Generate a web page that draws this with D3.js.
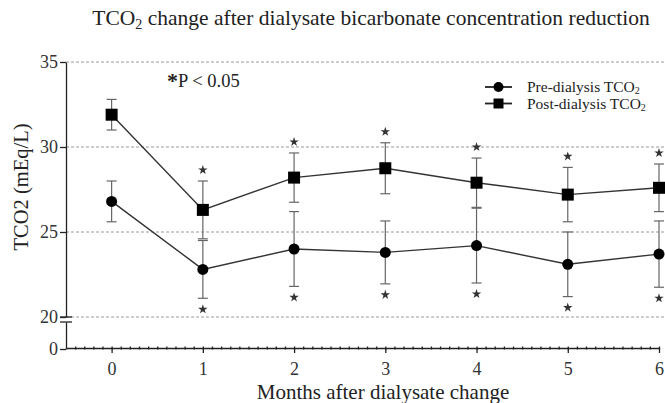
<!DOCTYPE html>
<html>
<head>
<meta charset="utf-8">
<script src="https://cdn.jsdelivr.net/npm/d3@7"></script>
<style>
body { margin: 0; background: #fff; }
text { font-family: "Liberation Serif", "Times New Roman", serif; fill: #222; }
.axis path, .axis line { stroke: #222; stroke-width: 1.3; }
.axis text { font-family: "Liberation Serif", serif; font-size: 18px; fill: #333; }
</style>
</head>
<body>
<div id="chart"></div>
<script>
// data
var months = [0, 1, 2, 3, 4, 5, 6];
var preMean = [26.8, 22.8, 24.0, 23.8, 24.2, 23.1, 23.7];
var preSD = [1.2, 1.7, 2.2, 1.85, 2.2, 1.9, 1.95];
var postMean = [31.9, 26.3, 28.2, 28.75, 27.9, 27.2, 27.6];
var postSD = [0.9, 1.7, 1.45, 1.5, 1.45, 1.6, 1.4];
var significant = [false, true, true, true, true, true, true];
var yTicks = [20, 25, 30, 35];

var svgWidth = 665;
var svgHeight = 403;

var svg = d3.select("#chart")
    .append("svg")
    .attr("width", svgWidth)
    .attr("height", svgHeight);

var x = d3.scaleLinear().domain([-0.5, 6]).range([66, 659]);
var y = d3.scaleLinear().domain([20, 35]).range([317, 62]);
var yLow = d3.scaleLinear().domain([0, 1.6]).range([349, 322]);

// gridlines
svg.append("g")
    .selectAll("line")
    .data(yTicks)
    .enter()
    .append("line")
    .attr("x1", 66)
    .attr("x2", svgWidth)
    .attr("y1", d => y(d))
    .attr("y2", d => y(d))
    .attr("stroke", "#9a9a9a")
    .attr("stroke-width", 1)
    .attr("stroke-dasharray", "3,2");

// y axis (broken)
svg.append("g")
    .attr("class", "axis")
    .attr("transform", "translate(66,0)")
    .call(d3.axisLeft(y).tickValues(yTicks).tickSize(6).tickSizeOuter(0).tickPadding(2));
svg.append("line")
    .attr("x1", 60).attr("x2", 72)
    .attr("y1", y(20)).attr("y2", y(20))
    .attr("stroke", "#222").attr("stroke-width", 1.3);
svg.append("line")
    .attr("x1", 60).attr("x2", 72)
    .attr("y1", yLow(1.6)).attr("y2", yLow(1.6))
    .attr("stroke", "#222").attr("stroke-width", 1.3);
svg.append("g")
    .attr("class", "axis")
    .attr("transform", "translate(66,0)")
    .call(d3.axisLeft(yLow).tickValues([0]).tickSize(6).tickSizeOuter(0).tickPadding(2).tickFormat(d3.format("d")));

// x axis with minor ticks
svg.append("g")
    .attr("class", "axis")
    .attr("transform", "translate(0,348)")
    .call(d3.axisBottom(x).tickValues(d3.range(-0.4, 6.01, 0.1)).tickSize(3).tickSizeOuter(0).tickFormat(""))
    .selectAll(".tick line").attr("y1", -1.5).attr("y2", 1.5);
svg.append("g")
    .attr("class", "axis")
    .attr("transform", "translate(0,348)")
    .call(d3.axisBottom(x).tickValues(months).tickSize(5).tickSizeOuter(0).tickPadding(9).tickFormat(d3.format("d")))
    .select(".domain").remove();

var pre = months.map((m, i) => ({m: m, v: preMean[i], sd: preSD[i], s: significant[i]}));
var post = months.map((m, i) => ({m: m, v: postMean[i], sd: postSD[i], s: significant[i]}));

function errorBars(data) {
    var g = svg.append("g").attr("stroke", "#666").attr("stroke-width", 1.2);
    g.selectAll(".v").data(data).enter().append("line")
        .attr("x1", d => x(d.m)).attr("x2", d => x(d.m))
        .attr("y1", d => y(d.v - d.sd)).attr("y2", d => y(d.v + d.sd));
    g.selectAll(".t").data(data).enter().append("line")
        .attr("x1", d => x(d.m) - 5).attr("x2", d => x(d.m) + 5)
        .attr("y1", d => y(d.v + d.sd)).attr("y2", d => y(d.v + d.sd));
    g.selectAll(".b").data(data).enter().append("line")
        .attr("x1", d => x(d.m) - 5).attr("x2", d => x(d.m) + 5)
        .attr("y1", d => y(d.v - d.sd)).attr("y2", d => y(d.v - d.sd));
}
errorBars(pre);
errorBars(post);

var line = d3.line().x(d => x(d.m)).y(d => y(d.v));
[pre, post].forEach(function(data) {
    svg.append("path")
        .datum(data)
        .attr("d", line)
        .attr("fill", "none")
        .attr("stroke", "#333")
        .attr("stroke-width", 1.4);
});

svg.selectAll(".preDot")
    .data(pre)
    .enter()
    .append("circle")
    .attr("cx", d => x(d.m))
    .attr("cy", d => y(d.v))
    .attr("r", 5.5)
    .attr("fill", "#000");

svg.selectAll(".postDot")
    .data(post)
    .enter()
    .append("rect")
    .attr("x", d => x(d.m) - 6)
    .attr("y", d => y(d.v) - 6)
    .attr("width", 12)
    .attr("height", 12)
    .attr("fill", "#000");

// significance stars
var star = d3.symbol().type(d3.symbolStar).size(28);
svg.selectAll(".starTop")
    .data(post.filter(d => d.s))
    .enter()
    .append("path")
    .attr("d", star)
    .attr("transform", d => `translate(${x(d.m)},${y(d.v + d.sd) - 11})`)
    .attr("fill", "#333");
svg.selectAll(".starBottom")
    .data(pre.filter(d => d.s))
    .enter()
    .append("path")
    .attr("d", star)
    .attr("transform", d => `translate(${x(d.m)},${y(d.v - d.sd) + 11})`)
    .attr("fill", "#333");

// title
var title = svg.append("text")
    .attr("x", 371)
    .attr("y", 25)
    .attr("text-anchor", "middle")
    .style("font-size", "21.5px");
title.append("tspan").text("TCO");
title.append("tspan").attr("dy", 4).style("font-size", "14px").text("2");
title.append("tspan").attr("dy", -4).text(" change after dialysate bicarbonate concentration reduction");

// axis labels
svg.append("text")
    .attr("transform", "rotate(-90)")
    .attr("x", -187)
    .attr("y", 28)
    .attr("text-anchor", "middle")
    .style("font-size", "20.5px")
    .text("TCO2 (mEq/L)");

svg.append("text")
    .attr("x", 383)
    .attr("y", 399)
    .attr("text-anchor", "middle")
    .style("font-size", "21px")
    .text("Months after dialysate change");

// p value note
var note = svg.append("text")
    .attr("x", 167)
    .attr("y", 87)
    .style("font-size", "18.5px");
note.append("tspan").style("font-size", "22px").style("font-weight", "bold").attr("dy", 1).text("*");
note.append("tspan").attr("dy", -1).text("P < 0.05");

// legend
var legendNames = ["Pre-dialysis TCO", "Post-dialysis TCO"];
var legend = svg.append("g").attr("transform", "translate(485,87)");
legendNames.forEach(function(name, i) {
    var row = legend.append("g").attr("transform", `translate(0,${i * 16.5})`);
    row.append("line").attr("x1", 0).attr("x2", 27).attr("stroke", "#222").attr("stroke-width", 1.8);
    if (i === 0) {
        row.append("circle").attr("cx", 13.5).attr("r", 5).attr("fill", "#000");
    } else {
        row.append("rect").attr("x", 8.5).attr("y", -5).attr("width", 10).attr("height", 10).attr("fill", "#000");
    }
    var t = row.append("text").attr("x", 42).attr("y", 5).style("font-size", "15.5px");
    t.append("tspan").text(name);
    t.append("tspan").attr("dy", 2).style("font-size", "10px").text("2");
});
</script>
</body>
</html>
